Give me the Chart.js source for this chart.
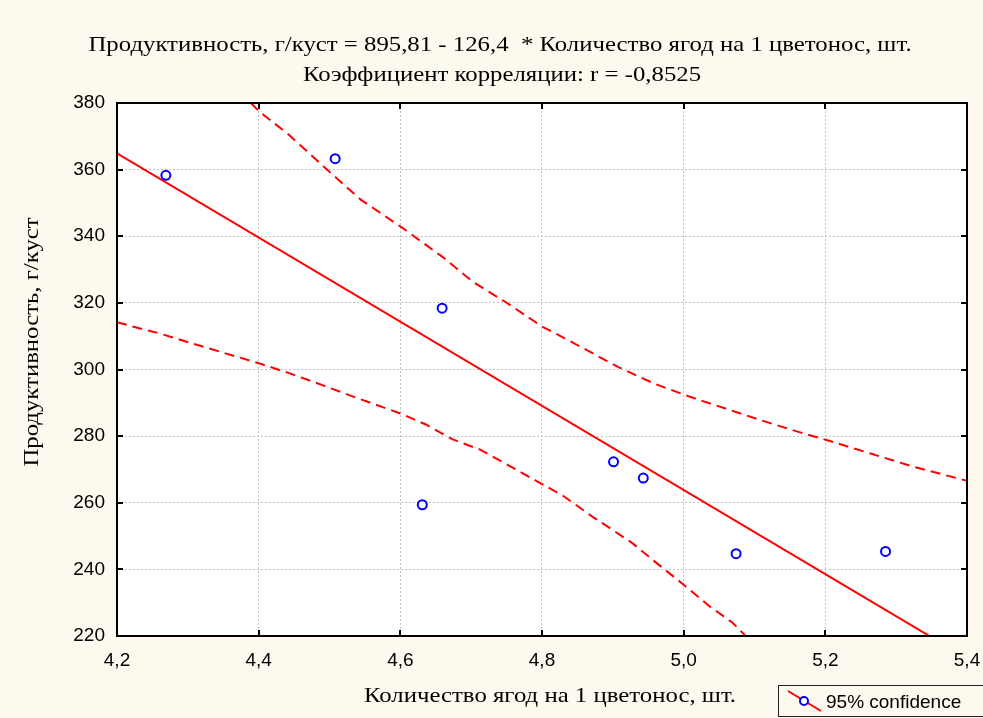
<!DOCTYPE html>
<html>
<head>
<meta charset="utf-8">
<script src="https://cdn.jsdelivr.net/npm/chart.js@4/dist/chart.umd.min.js"></script>
<style>
  body { margin: 0; background: #fdf9ee; }
  #wrap { width: 983px; height: 718px; }
</style>
</head>
<body>
<div id="wrap"><canvas id="regressionChart" width="983" height="718"></canvas></div>
<script>
// Observed points (berries per peduncle vs yield)
const berries = [4.269, 4.508, 4.659, 4.631, 4.901, 4.943, 5.074, 5.285];
const yieldPerBush = [358.3, 363.3, 318.4, 259.4, 272.3, 267.4, 244.7, 245.4];

// Regression line, read at the plot edges
const fitX = [4.2, 5.4];
const fitY = [364.9, 213.3];

// 95% confidence bands
const upperX = [4.389, 4.4, 4.443, 4.494, 4.544, 4.603, 4.659, 4.702, 4.751, 4.8, 4.846, 4.907, 4.958, 5.009, 5.06, 5.11, 5.163, 5.204, 5.265, 5.326, 5.4];
const upperY = [380, 377.6, 370.4, 360.5, 351, 342.5, 333.9, 326.4, 319.9, 312.9, 307.8, 300.8, 295.8, 291.8, 288.2, 284.7, 281.2, 278.7, 274.7, 270.7, 266.6];
const lowerX = [4.2, 4.231, 4.259, 4.302, 4.349, 4.4, 4.443, 4.49, 4.538, 4.6, 4.636, 4.674, 4.712, 4.754, 4.8, 4.829, 4.872, 4.9, 4.928, 4.956, 5.0, 5.036, 5.069, 5.088];
const lowerY = [314.2, 312.4, 310.9, 308.1, 305.1, 301.9, 298.9, 295.3, 291.5, 286.8, 283.5, 279, 276, 271.1, 265.6, 262.2, 255.7, 251.8, 247.8, 242.9, 235.4, 229, 224, 219.9];

// Axis ticks
const xTicks = [4.2, 4.4, 4.6, 4.8, 5.0, 5.2, 5.4];
const xTickLabels = ["4,2", "4,4", "4,6", "4,8", "5,0", "5,2", "5,4"];
const yTicks = [220, 240, 260, 280, 300, 320, 340, 360, 380];
const yTickLabels = ["220", "240", "260", "280", "300", "320", "340", "360", "380"];

const titleLines = [
  "Продуктивность, г/куст = 895,81 - 126,4  * Количество ягод на 1 цветонос, шт.",
  "Коэффициент корреляции: r = -0,8525"
];
const xTitle = "Количество ягод на 1 цветонос, шт.";
const yTitle = "Продуктивность, г/куст";
const legendText = "95% confidence";

const SERIF = "21px 'Liberation Serif', 'DejaVu Serif', serif";
const STRETCH = 1.18; // the original serif text is a bit wider than Liberation Serif

const toXY = (xs, ys) => xs.map((x, i) => ({ x: x, y: ys[i] }));

// draw serif text slightly stretched horizontally
function wideText(ctx, text, x, y, angle) {
  ctx.save();
  ctx.translate(x, y);
  if (angle) ctx.rotate(angle);
  ctx.scale(STRETCH, 1);
  ctx.fillText(text, 0, 0);
  ctx.restore();
}

// titles, plot frame, inward ticks and the legend box
const framePlugin = {
  id: "frame",
  beforeDraw(chart) {
    const { ctx, chartArea: a } = chart;
    ctx.save();
    ctx.fillStyle = "#ffffff";
    ctx.fillRect(a.left, a.top, a.right - a.left, a.bottom - a.top);
    ctx.restore();
  },
  afterDraw(chart) {
    const { ctx, chartArea: a } = chart;
    const xs = chart.scales.x, ys = chart.scales.y;
    ctx.save();
    ctx.strokeStyle = "#000";
    ctx.lineWidth = 2;
    ctx.strokeRect(a.left, a.top, a.right - a.left, a.bottom - a.top);
    ctx.beginPath();
    xTicks.slice(1, -1).forEach(v => {
      const px = Math.round(xs.getPixelForValue(v));
      ctx.moveTo(px, a.bottom); ctx.lineTo(px, a.bottom - 6);
      ctx.moveTo(px, a.top); ctx.lineTo(px, a.top + 6);
    });
    yTicks.slice(1, -1).forEach(v => {
      const py = Math.round(ys.getPixelForValue(v));
      ctx.moveTo(a.left, py); ctx.lineTo(a.left + 6, py);
      ctx.moveTo(a.right, py); ctx.lineTo(a.right - 6, py);
    });
    ctx.stroke();

    // chart title and axis titles
    ctx.fillStyle = "#000";
    ctx.font = SERIF;
    ctx.textAlign = "center";
    ctx.textBaseline = "middle";
    wideText(ctx, titleLines[0], 500, 45);
    wideText(ctx, titleLines[1], 502, 75);
    wideText(ctx, xTitle, 550, 696);
    wideText(ctx, yTitle, 32, 342, -Math.PI / 2);

    // legend
    ctx.fillStyle = "#fdf9ee";
    ctx.fillRect(778.5, 685.5, 220, 31);
    ctx.lineWidth = 1;
    ctx.strokeStyle = "#222";
    ctx.strokeRect(778.5, 685.5, 220, 31);
    ctx.strokeStyle = "#ff0000";
    ctx.lineWidth = 2;
    ctx.beginPath();
    ctx.moveTo(788, 691); ctx.lineTo(821, 711);
    ctx.stroke();
    ctx.fillStyle = "#ffffff";
    ctx.strokeStyle = "#0000ff";
    ctx.beginPath();
    ctx.arc(804, 701, 4, 0, Math.PI * 2);
    ctx.fill();
    ctx.stroke();
    ctx.fillStyle = "#000";
    ctx.font = "19px 'Liberation Sans', Arial, sans-serif";
    ctx.textAlign = "left";
    ctx.fillText(legendText, 826, 703);
    ctx.restore();
  }
};

document.addEventListener("DOMContentLoaded", () => {
  const ctx = document.getElementById("regressionChart").getContext("2d");
  new Chart(ctx, {
    type: "scatter",
    data: {
      datasets: [
        {
          label: "Наблюдения",
          data: toXY(berries, yieldPerBush),
          pointStyle: "circle",
          pointRadius: 4.5,
          pointBorderWidth: 2,
          borderColor: "#0000ff",
          backgroundColor: "#ffffff",
          order: 0,
        },
        {
          label: "Регрессия",
          data: toXY(fitX, fitY),
          showLine: true,
          pointRadius: 0,
          borderColor: "#ff0000",
          borderWidth: 2,
          order: 1,
        },
        {
          label: legendText,
          data: toXY(upperX, upperY),
          showLine: true,
          pointRadius: 0,
          borderColor: "#ff0000",
          borderWidth: 2,
          borderDash: [10, 6],
          order: 2,
        },
        {
          label: legendText + " (нижняя)",
          data: toXY(lowerX, lowerY),
          showLine: true,
          pointRadius: 0,
          borderColor: "#ff0000",
          borderWidth: 2,
          borderDash: [10, 6],
          order: 3,
        },
      ],
    },
    options: {
      responsive: false,
      animation: false,
      layout: { padding: { left: 34, right: 16, top: 103, bottom: 0 } },
      plugins: {
        legend: { display: false },
        tooltip: { enabled: false },
        title: { display: false },
      },
      scales: {
        x: {
          type: "linear",
          min: 4.2,
          max: 5.4,
          afterBuildTicks: scale => { scale.ticks = xTicks.map(v => ({ value: v })); },
          afterFit: scale => { scale.height = 82; scale.paddingLeft = 0; scale.paddingRight = 0; },
          ticks: {
            callback: (value, index) => xTickLabels[index],
            color: "#000",
            padding: 13,
            maxRotation: 0,
            font: { family: "'Liberation Sans', Arial, sans-serif", size: 19 },
          },
          grid: { color: "#c4c4c4", lineWidth: 1, drawTicks: false },
          border: { display: false, dash: [2, 2] },
        },
        y: {
          type: "linear",
          min: 220,
          max: 380,
          afterBuildTicks: scale => { scale.ticks = yTicks.map(v => ({ value: v })); },
          afterFit: scale => { scale.width = 83; scale.paddingTop = 0; scale.paddingBottom = 0; },
          ticks: {
            callback: (value, index) => yTickLabels[index],
            color: "#000",
            padding: 12,
            font: { family: "'Liberation Sans', Arial, sans-serif", size: 19 },
          },
          grid: { color: "#c4c4c4", lineWidth: 1, drawTicks: false },
          border: { display: false, dash: [2, 2] },
        },
      },
    },
    plugins: [framePlugin],
  });
});
</script>
</body>
</html>
